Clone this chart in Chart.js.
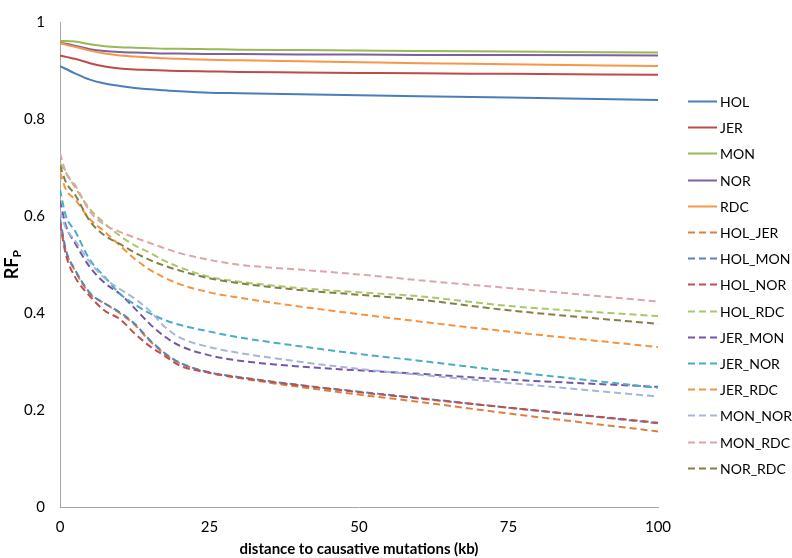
<!DOCTYPE html>
<html>
<head>
<meta charset="utf-8">
<title>RFp vs distance</title>
<script src="https://cdn.jsdelivr.net/npm/chart.js@4.4.0/dist/chart.umd.min.js"></script>
<style>
  html, body { margin: 0; padding: 0; background: #fff; }
  #wrap { width: 792px; height: 558px; }
</style>
</head>
<body>
<div id="wrap"><canvas id="rfp-chart" width="792" height="558"></canvas></div>
<script>
// distance to causative mutation (kb)
const distances = [0, 1, 2.5, 5, 7.5, 10, 12.5, 15, 17.5, 20, 25, 30, 40, 50, 60, 75, 100];

// within breed
const hol = [0.910, 0.904, 0.895, 0.882, 0.874, 0.869, 0.865, 0.862, 0.860, 0.858, 0.855, 0.854, 0.852, 0.850, 0.848, 0.845, 0.840];
const jer = [0.932, 0.929, 0.925, 0.916, 0.909, 0.905, 0.903, 0.902, 0.901, 0.900, 0.899, 0.898, 0.897, 0.896, 0.895, 0.894, 0.892];
const mon = [0.962, 0.962, 0.961, 0.955, 0.951, 0.949, 0.948, 0.947, 0.946, 0.946, 0.945, 0.944, 0.943, 0.942, 0.941, 0.940, 0.938];
const nor = [0.958, 0.956, 0.952, 0.945, 0.941, 0.939, 0.938, 0.937, 0.936, 0.936, 0.935, 0.935, 0.934, 0.934, 0.933, 0.933, 0.932];
const rdc = [0.957, 0.954, 0.950, 0.942, 0.936, 0.932, 0.930, 0.928, 0.926, 0.925, 0.923, 0.922, 0.920, 0.918, 0.916, 0.914, 0.910];

// between breeds
const holJer = [0.590, 0.528, 0.488, 0.440, 0.420, 0.400, 0.376, 0.343, 0.316, 0.297, 0.277, 0.266, 0.248, 0.232, 0.217, 0.193, 0.156];
const holMon = [0.595, 0.530, 0.490, 0.442, 0.420, 0.402, 0.378, 0.345, 0.318, 0.298, 0.278, 0.268, 0.252, 0.238, 0.225, 0.205, 0.173];
const holNor = [0.585, 0.520, 0.475, 0.435, 0.405, 0.388, 0.358, 0.332, 0.312, 0.292, 0.277, 0.267, 0.251, 0.237, 0.224, 0.205, 0.174];
const holRdc = [0.710, 0.690, 0.660, 0.615, 0.585, 0.560, 0.540, 0.525, 0.508, 0.495, 0.475, 0.465, 0.452, 0.443, 0.435, 0.415, 0.394];
const jerMon = [0.632, 0.580, 0.545, 0.495, 0.462, 0.440, 0.410, 0.378, 0.352, 0.333, 0.313, 0.302, 0.290, 0.282, 0.275, 0.263, 0.248];
const jerNor = [0.655, 0.600, 0.570, 0.510, 0.475, 0.440, 0.418, 0.400, 0.386, 0.376, 0.362, 0.350, 0.332, 0.316, 0.302, 0.280, 0.246];
const jerRdc = [0.690, 0.655, 0.635, 0.594, 0.568, 0.540, 0.512, 0.490, 0.473, 0.460, 0.443, 0.432, 0.414, 0.398, 0.383, 0.362, 0.330];
const monNor = [0.610, 0.575, 0.550, 0.505, 0.472, 0.450, 0.430, 0.405, 0.372, 0.350, 0.330, 0.318, 0.300, 0.285, 0.273, 0.256, 0.228];
const monRdc = [0.730, 0.690, 0.665, 0.610, 0.582, 0.568, 0.556, 0.545, 0.534, 0.524, 0.510, 0.500, 0.490, 0.480, 0.468, 0.452, 0.424];
const norRdc = [0.705, 0.670, 0.645, 0.590, 0.560, 0.543, 0.525, 0.510, 0.498, 0.488, 0.472, 0.462, 0.448, 0.438, 0.428, 0.406, 0.378];

const seriesNames = ['HOL', 'JER', 'MON', 'NOR', 'RDC',
  'HOL_JER', 'HOL_MON', 'HOL_NOR', 'HOL_RDC', 'JER_MON', 'JER_NOR', 'JER_RDC', 'MON_NOR', 'MON_RDC', 'NOR_RDC'];
const seriesValues = [hol, jer, mon, nor, rdc,
  holJer, holMon, holNor, holRdc, jerMon, jerNor, jerRdc, monNor, monRdc, norRdc];
const xTicks = [0, 25, 50, 75, 100];

// styling
const seriesColors = ['#4A7EBB', '#BE4B48', '#98B954', '#7D60A0', '#F79646',
  '#DC8040', '#5584BE', '#C0504D', '#A9C76B', '#7456A8', '#4BACC6', '#F7923E', '#A5B6D9', '#DDA4AA', '#857F45'];
const FONT = 'Lato, "Open Sans", sans-serif';

const datasets = seriesNames.map((name, i) => ({
  label: name,
  data: distances.map((d, j) => ({ x: d, y: seriesValues[i][j] })),
  borderColor: seriesColors[i],
  backgroundColor: seriesColors[i],
  borderWidth: 2,
  borderDash: i < 5 ? [] : [7, 4],
  pointRadius: 0,
  cubicInterpolationMode: 'monotone',
  fill: false,
  order: seriesNames.length - i
}));

// y axis title with subscript, drawn rotated
const yTitlePlugin = {
  id: 'yTitle',
  afterDraw(chart) {
    const ctx = chart.ctx;
    const area = chart.chartArea;
    ctx.save();
    ctx.translate(12, (area.top + area.bottom) / 2);
    ctx.rotate(-Math.PI / 2);
    ctx.fillStyle = '#000';
    ctx.textBaseline = 'alphabetic';
    ctx.font = 'bold 18px ' + FONT;
    const w1 = ctx.measureText('RF').width;
    ctx.font = 'bold 12px ' + FONT;
    const w2 = ctx.measureText('P').width;
    const start = -(w1 + w2) / 2;
    ctx.font = 'bold 18px ' + FONT;
    ctx.textAlign = 'left';
    ctx.fillText('RF', start, 6);
    ctx.font = 'bold 12px ' + FONT;
    ctx.fillText('P', start + w1, 9);
    ctx.restore();
  }
};

// legend on the right, one entry per dataset
const sideLegend = {
  id: 'sideLegend',
  afterDraw(chart) {
    const ctx = chart.ctx;
    const x0 = 688, lineLen = 29, top = 101, step = 26.2;
    ctx.save();
    ctx.font = '14px ' + FONT;
    ctx.textBaseline = 'middle';
    ctx.textAlign = 'left';
    chart.data.datasets.forEach((ds, i) => {
      const y = Math.round(top + i * step) + 0.5;
      ctx.strokeStyle = ds.borderColor;
      ctx.lineWidth = 2;
      ctx.setLineDash(ds.borderDash);
      ctx.beginPath();
      ctx.moveTo(x0, y);
      ctx.lineTo(x0 + lineLen, y);
      ctx.stroke();
      ctx.fillStyle = '#000';
      ctx.fillText(ds.label, x0 + lineLen + 3, y + 1);
    });
    ctx.restore();
  }
};

new Chart(document.getElementById('rfp-chart'), {
  type: 'line',
  data: { datasets: datasets },
  options: {
    responsive: false,
    animation: false,
    layout: { padding: { top: 7, right: 134, bottom: 0, left: 0 } },
    plugins: {
      legend: { display: false },
      tooltip: { enabled: false }
    },
    scales: {
      x: {
        type: 'linear',
        min: 0,
        max: 100,
        afterBuildTicks(scale) { scale.ticks = xTicks.map(v => ({ value: v })); },
        afterFit(scale) { scale.height = 51; },
        grid: { display: false, drawTicks: false, tickLength: 0 },
        border: { display: true, color: '#A6A6A6', width: 1 },
        ticks: { color: '#000', font: { family: FONT, size: 15 }, padding: 11, maxRotation: 0 },
        title: {
          display: true,
          text: 'distance to causative mutations (kb)',
          color: '#000',
          font: { family: FONT, size: 15, weight: 'bold' },
          padding: { top: 0, bottom: 0 }
        }
      },
      y: {
        min: 0,
        max: 1,
        afterFit(scale) { scale.width = 60; },
        grid: { display: false, drawTicks: false, tickLength: 0 },
        border: { display: true, color: '#A6A6A6', width: 1 },
        ticks: {
          stepSize: 0.2,
          color: '#000',
          font: { family: FONT, size: 15, lineHeight: 1 },
          padding: 15,
          callback: v => String(Number(v.toFixed(1)))
        }
      }
    }
  },
  plugins: [yTitlePlugin, sideLegend]
});
</script>
</body>
</html>
